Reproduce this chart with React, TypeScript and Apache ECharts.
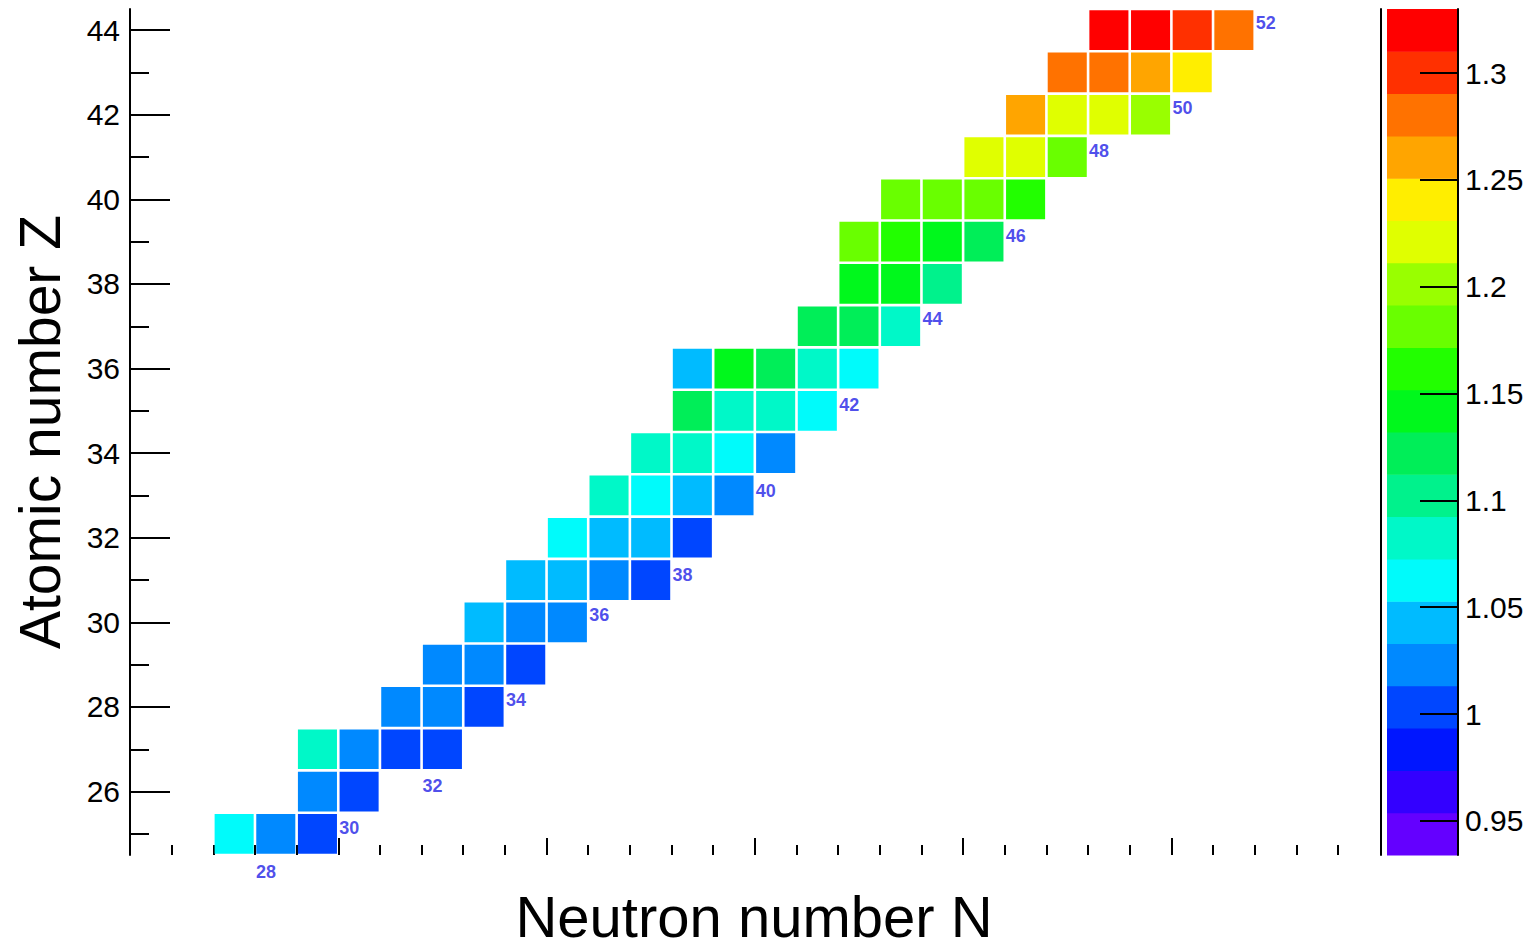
import React, { useEffect, useRef } from "react";
import * as echarts from "echarts";

// ---- data: neutron number N, atomic number Z, colour-scale value ----
const cellN = [
  28, 29, 30,
  30, 31,
  30, 31, 32, 33,
  32, 33, 34,
  33, 34, 35,
  34, 35, 36,
  35, 36, 37, 38,
  36, 37, 38, 39,
  37, 38, 39, 40,
  38, 39, 40, 41,
  39, 40, 41, 42,
  39, 40, 41, 42, 43,
  42, 43, 44,
  43, 44, 45,
  43, 44, 45, 46,
  44, 45, 46, 47,
  46, 47, 48,
  47, 48, 49, 50,
  48, 49, 50, 51,
  49, 50, 51, 52,
];
const cellZ = [
  25, 25, 25,
  26, 26,
  27, 27, 27, 27,
  28, 28, 28,
  29, 29, 29,
  30, 30, 30,
  31, 31, 31, 31,
  32, 32, 32, 32,
  33, 33, 33, 33,
  34, 34, 34, 34,
  35, 35, 35, 35,
  36, 36, 36, 36, 36,
  37, 37, 37,
  38, 38, 38,
  39, 39, 39, 39,
  40, 40, 40, 40,
  41, 41, 41,
  42, 42, 42, 42,
  43, 43, 43, 43,
  44, 44, 44, 44,
];
const cellValue = [
  1.062, 1.024, 1.001,
  1.026, 1.006,
  1.085, 1.022, 1.002, 1.004,
  1.025, 1.027, 1.003,
  1.024, 1.028, 1.001,
  1.044, 1.026, 1.022,
  1.045, 1.042, 1.025, 1.002,
  1.064, 1.043, 1.046, 1.003,
  1.084, 1.063, 1.044, 1.024,
  1.082, 1.085, 1.065, 1.023,
  1.121, 1.083, 1.084, 1.062,
  1.041, 1.141, 1.124, 1.086, 1.064,
  1.122, 1.125, 1.083,
  1.143, 1.145, 1.103,
  1.181, 1.161, 1.144, 1.121,
  1.183, 1.184, 1.182, 1.163,
  1.222, 1.221, 1.181,
  1.262, 1.223, 1.222, 1.202,
  1.282, 1.284, 1.262, 1.242,
  1.321, 1.322, 1.302, 1.283,
];

// annotations (neutron number written next to a cell)
const noteText = ["28", "30", "32", "34", "36", "38", "40", "42", "44", "46", "48", "50", "52"];
const noteN = [28, 30, 32, 34, 36, 38, 40, 42, 44, 46, 48, 50, 52];
const noteZ = [24.1, 25.14, 26.13, 28.16, 30.17, 31.12, 33.11, 35.14, 37.17, 39.13, 41.15, 42.16, 44.18];

// colour scale (20 contour levels)
const zMin = 0.934;
const zMax = 1.33;
const palette = [
  "#6400ff", "#3300ff", "#0016ff", "#0046ff", "#0089ff",
  "#00bbff", "#00fbfb", "#00f8c8", "#00f28c", "#00ee58",
  "#00f81c", "#22ff00", "#69ff00", "#99ff00", "#e0ff00",
  "#ffee00", "#ffa500", "#ff7200", "#ff3000", "#ff0000",
];

// axis ticks
const xMinorTicks = [
  26.5, 27.5, 28.5, 29.5, 30.5, 31.5, 32.5, 33.5, 34.5, 35.5, 36.5, 37.5, 38.5, 39.5, 40.5,
  41.5, 42.5, 43.5, 44.5, 45.5, 46.5, 47.5, 48.5, 49.5, 50.5, 51.5, 52.5, 53.5, 54.5,
];
const xMajorTicks = [30.5, 35.5, 40.5, 45.5, 50.5];
const zMinorTicks = [25, 27, 29, 31, 33, 35, 37, 39, 41, 43];
const zMajorTicks = [26, 28, 30, 32, 34, 36, 38, 40, 42, 44];
const scaleTicks = [0.95, 1, 1.05, 1.1, 1.15, 1.2, 1.25, 1.3];

const FONT = "'Liberation Sans', Arial, Helvetica, sans-serif";

function bandColor(v: number): string {
  const step = (zMax - zMin) / palette.length;
  let k = Math.floor((v - zMin) / step);
  if (k < 0) k = 0;
  if (k > palette.length - 1) k = palette.length - 1;
  return palette[k];
}

export default function App() {
  const ref = useRef<HTMLDivElement>(null);

  useEffect(() => {
    if (!ref.current) return;
    const chart = echarts.init(ref.current, undefined, { renderer: "svg" });

    const step = (zMax - zMin) / palette.length;
    const bands = palette.map((c, k) => [0, zMin + k * step, zMin + (k + 1) * step, k]);

    const cells = cellN.map((n, i) => [n, cellZ[i], cellValue[i]]);
    const notes = noteText.map((t, i) => ({ name: t, value: [noteN[i] + 0.5, noteZ[i]] }));

    const option: any = {
      animation: false,
      backgroundColor: "#ffffff",
      textStyle: { fontFamily: FONT },
      grid: [
        { left: 130, top: 9, width: 1208, height: 846, outerBoundsMode: "none", containLabel: false },
        { left: 1387, top: 9, width: 71, height: 846, outerBoundsMode: "none", containLabel: false },
      ],
      xAxis: [
        {
          type: "value",
          gridIndex: 0,
          min: 25.5,
          max: 54.5,
          position: "bottom",
          axisLine: { show: false, onZero: false },
          axisTick: {
            show: true,
            inside: true,
            length: 10,
            customValues: xMinorTicks,
            lineStyle: { color: "#000", width: 2 },
          },
          axisLabel: { show: false },
          splitLine: { show: false },
          name: "Neutron number N",
          nameLocation: "middle",
          nameGap: 32,
          nameTextStyle: { fontSize: 58, color: "#000", fontFamily: FONT, padding: [0, 0, 0, 40] },
        },
        {
          type: "value",
          gridIndex: 0,
          min: 25.5,
          max: 54.5,
          position: "bottom",
          axisLine: { show: false, onZero: false },
          axisTick: {
            show: true,
            inside: true,
            length: 17,
            customValues: xMajorTicks,
            lineStyle: { color: "#000", width: 2 },
          },
          axisLabel: { show: false },
          splitLine: { show: false },
        },
        {
          type: "value",
          gridIndex: 1,
          min: 0,
          max: 1,
          show: false,
          axisLine: { onZero: false },
        },
      ],
      yAxis: [
        {
          type: "value",
          gridIndex: 0,
          min: 24.5,
          max: 44.5,
          position: "left",
          axisLine: { show: true, onZero: false, lineStyle: { color: "#000", width: 2 } },
          axisTick: {
            show: true,
            inside: true,
            length: 19,
            customValues: zMinorTicks,
            lineStyle: { color: "#000", width: 2 },
          },
          axisLabel: {
            show: true,
            customValues: zMajorTicks,
            margin: 10,
            fontSize: 30,
            color: "#000",
            fontFamily: FONT,
            formatter: (v: number) => String(Math.round(v)),
          },
          splitLine: { show: false },
          name: "Atomic number Z",
          nameLocation: "middle",
          nameGap: 62,
          nameTextStyle: { fontSize: 57, color: "#000", fontFamily: FONT },
        },
        {
          type: "value",
          gridIndex: 0,
          min: 24.5,
          max: 44.5,
          position: "left",
          axisLine: { show: false, onZero: false },
          axisTick: {
            show: true,
            inside: true,
            length: 40,
            customValues: zMajorTicks,
            lineStyle: { color: "#000", width: 2 },
          },
          axisLabel: { show: false },
          splitLine: { show: false },
        },
        {
          type: "value",
          gridIndex: 1,
          min: zMin,
          max: zMax,
          position: "right",
          z: 10,
          axisLine: { show: true, onZero: false, lineStyle: { color: "#000", width: 2 } },
          axisTick: {
            show: true,
            inside: true,
            length: 38,
            customValues: scaleTicks,
            lineStyle: { color: "#000", width: 2 },
          },
          axisLabel: {
            show: true,
            customValues: scaleTicks,
            margin: 7,
            fontSize: 30,
            color: "#000",
            fontFamily: FONT,
            formatter: (v: number) => String(+Number(v).toFixed(2)),
          },
          splitLine: { show: false },
        },
        {
          type: "value",
          gridIndex: 1,
          min: 0,
          max: 1,
          position: "left",
          offset: 6,
          z: 10,
          axisLine: { show: true, onZero: false, lineStyle: { color: "#000", width: 2 } },
          axisTick: { show: false },
          axisLabel: { show: false },
          splitLine: { show: false },
        },
      ],
      series: [
        {
          type: "custom",
          xAxisIndex: 0,
          yAxisIndex: 0,
          z: 2,
          data: cells,
          encode: { x: 0, y: 1 },
          silent: true,
          renderItem: (params: any, api: any) => {
            const n = api.value(0);
            const z = api.value(1);
            const v = api.value(2);
            const p0 = api.coord([n - 0.5, z + 0.5]);
            const p1 = api.coord([n + 0.5, z - 0.5]);
            const g = 1.3;
            return {
              type: "rect",
              shape: { x: p0[0] + g, y: p0[1] + g, width: p1[0] - p0[0] - 2 * g, height: p1[1] - p0[1] - 2 * g },
              style: { fill: bandColor(v) },
            };
          },
        },
        {
          type: "scatter",
          xAxisIndex: 0,
          yAxisIndex: 0,
          symbolSize: 0,
          clip: false,
          silent: true,
          data: notes,
          label: {
            show: true,
            position: "right",
            distance: 1,
            formatter: "{b}",
            color: "#1f1fe6",
            fontSize: 18,
            fontWeight: "bold",
            fontFamily: FONT,
          },
        },
        {
          type: "custom",
          xAxisIndex: 2,
          yAxisIndex: 2,
          z: 1,
          data: bands,
          encode: { x: 0, y: 1 },
          silent: true,
          renderItem: (params: any, api: any) => {
            const lo = api.value(1);
            const hi = api.value(2);
            const k = api.value(3);
            const p0 = api.coord([0, hi]);
            const p1 = api.coord([1, lo]);
            return {
              type: "rect",
              shape: { x: p0[0], y: p0[1], width: p1[0] - p0[0], height: p1[1] - p0[1] + 0.5 },
              style: { fill: palette[k] },
            };
          },
        },
      ],
    };

    chart.setOption(option);
    return () => chart.dispose();
  }, []);

  return (
    <div
      ref={ref}
      style={{ position: "fixed", left: 0, top: 0, width: 1537, height: 947, background: "#fff" }}
    />
  );
}
